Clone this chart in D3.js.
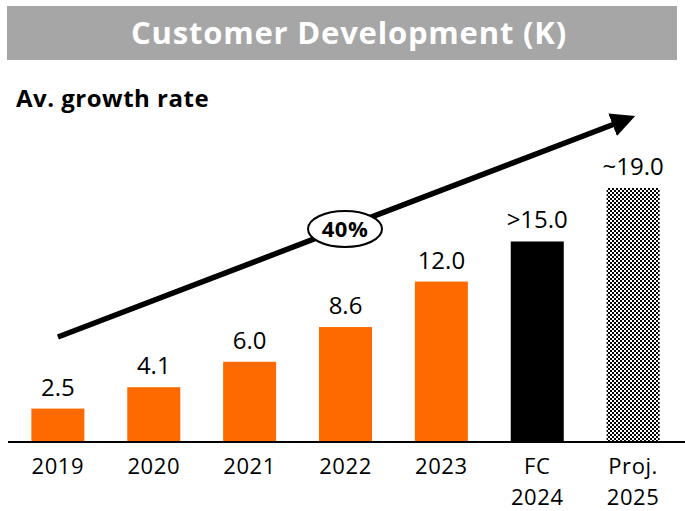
<!DOCTYPE html>
<html>
<head>
<meta charset="utf-8">
<script src="https://cdn.jsdelivr.net/npm/d3@7"></script>
<style>
  html, body { margin: 0; padding: 0; background: #fff; }
  svg { display: block; }
</style>
</head>
<body>
<svg id="chart" width="685" height="511"></svg>
<script>
// Customer counts in thousands
const categories = ["2019", "2020", "2021", "2022", "2023", "FC\n2024", "Proj.\n2025"];
const values = [2.5, 4.1, 6.0, 8.6, 12.0, 15.0, 19.0];
const valueLabels = ["2.5", "4.1", "6.0", "8.6", "12.0", ">15.0", "~19.0"];
const barKinds = ["actual", "actual", "actual", "actual", "actual", "forecast", "projection"];
const growthLabel = "40%";

const W = 685, H = 511;
const baseY = 442;
const svg = d3.select("#chart");

const defs = svg.append("defs");
const pat = defs.append("pattern")
  .attr("id", "checker").attr("patternUnits", "userSpaceOnUse")
  .attr("width", 4).attr("height", 4);
pat.append("rect").attr("width", 4).attr("height", 4).attr("fill", "#fff");
pat.append("rect").attr("x", 0).attr("y", 0).attr("width", 2).attr("height", 2).attr("fill", "#000");
pat.append("rect").attr("x", 2).attr("y", 2).attr("width", 2).attr("height", 2).attr("fill", "#000");

defs.append("marker")
  .attr("id", "arrowHead").attr("viewBox", "0 0 10 10")
  .attr("refX", 2).attr("refY", 5)
  .attr("markerWidth", 4.4).attr("markerHeight", 4.4)
  .attr("markerUnits", "strokeWidth")
  .attr("orient", "auto")
  .append("path").attr("d", "M0,0 L10,5 L0,10 Z").attr("fill", "#000");

// Title banner
svg.append("rect").attr("x", 7).attr("y", 6).attr("width", 670).attr("height", 54).attr("fill", "#a6a6a6");
svg.append("text")
  .attr("x", 349).attr("y", 44)
  .attr("text-anchor", "middle")
  .attr("font-family", "'Open Sans', sans-serif")
  .attr("font-weight", 700)
  .attr("font-size", 31)
  .attr("letter-spacing", 0.8)
  .attr("fill", "#fff")
  .text("Customer Development (K)");

svg.append("text")
  .attr("x", 16).attr("y", 107)
  .attr("font-family", "'Open Sans', sans-serif")
  .attr("font-weight", 700)
  .attr("font-size", 24)
  .attr("letter-spacing", 0.5)
  .attr("fill", "#000")
  .text("Av. growth rate");

const x = d3.scaleBand().domain(categories).range([10, 681]).paddingInner(0.447).paddingOuter(0.223);
const y = d3.scaleLinear().domain([0, 19]).range([baseY, 188]);

const fillFor = k => k === "actual" ? "#ff6a00" : k === "forecast" ? "#000" : "url(#checker)";

svg.selectAll("rect.bar").data(values).join("rect")
  .attr("class", "bar")
  .attr("x", (d, i) => x(categories[i]))
  .attr("y", d => y(d))
  .attr("width", x.bandwidth())
  .attr("height", d => baseY - y(d))
  .attr("fill", (d, i) => fillFor(barKinds[i]));

svg.selectAll("text.val").data(values).join("text")
  .attr("class", "val")
  .attr("x", (d, i) => x(categories[i]) + x.bandwidth() / 2)
  .attr("y", d => y(d) - 13)
  .attr("text-anchor", "middle")
  .attr("font-family", "'Open Sans', sans-serif")
  .attr("font-size", 24)
  .attr("fill", "#000")
  .text((d, i) => valueLabels[i]);

// Baseline axis
const axis = svg.append("g").attr("transform", `translate(0,${baseY})`)
  .call(d3.axisBottom(x).tickSize(0).tickFormat(""));
axis.select(".domain").attr("d", "M8,0H685").attr("stroke", "#000").attr("stroke-width", 2);

svg.selectAll("text.cat").data(categories).join("text")
  .attr("class", "cat")
  .attr("text-anchor", "middle")
  .attr("font-family", "'Open Sans', sans-serif")
  .attr("font-size", 22)
  .attr("letter-spacing", 0.6)
  .attr("fill", "#000")
  .each(function(d) {
    const lines = d.split("\n");
    const t = d3.select(this);
    lines.forEach((ln, j) => {
      t.append("tspan")
        .attr("x", x(d) + x.bandwidth() / 2)
        .attr("y", 474 + j * 30.5)
        .text(ln);
    });
  });

// Growth trend arrow
const ax0 = x(categories[0]) + x.bandwidth() / 2;
const ax1 = x(categories[categories.length - 1]) + x.bandwidth() / 2 - 6;
svg.append("line")
  .attr("x1", ax0).attr("y1", 337)
  .attr("x2", ax1 - 10).attr("y2", 123)
  .attr("stroke", "#000").attr("stroke-width", 5.5)
  .attr("marker-end", "url(#arrowHead)");

svg.append("ellipse")
  .attr("cx", 345).attr("cy", 229).attr("rx", 37).attr("ry", 18)
  .attr("fill", "#fff").attr("stroke", "#000").attr("stroke-width", 2);
svg.append("text")
  .attr("x", 345).attr("y", 237)
  .attr("text-anchor", "middle")
  .attr("font-family", "'Open Sans', sans-serif")
  .attr("font-weight", 700)
  .attr("font-size", 22)
  .attr("letter-spacing", 0.5)
  .attr("fill", "#000")
  .text(growthLabel);
</script>
</body>
</html>
